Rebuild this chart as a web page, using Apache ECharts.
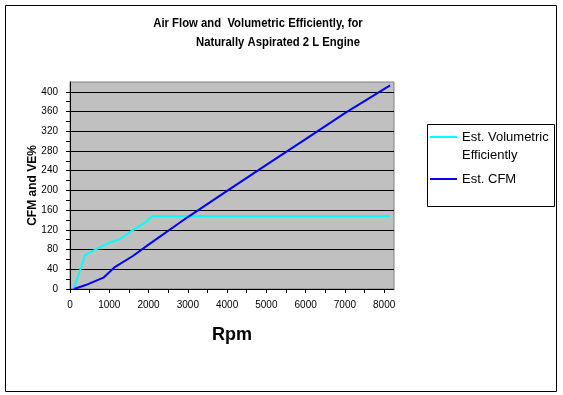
<!DOCTYPE html>
<html><head><meta charset="utf-8">
<script src="https://cdn.jsdelivr.net/npm/echarts@6/dist/echarts.min.js"></script>
<style>html,body{margin:0;padding:0;background:#fff}#c{width:563px;height:395px}</style>
</head><body><div id="c"></div>
<script>
const titleLines = ['Air Flow and  Volumetric Efficiently, for', 'Naturally Aspirated 2 L Engine'];
const seriesNames = ['Est. Volumetric Efficiently', 'Est. CFM'];
const legendLabels = ['Est. Volumetric\nEfficiently', 'Est. CFM'];
const xAxisName = 'Rpm';
const yAxisName = 'CFM and VE%';
const veRpm = [100, 380, 550, 1000, 1270, 1570, 1900, 2100, 8150];
const veValues = [0, 68, 76, 94, 101, 118, 134, 148, 148];
const cfmRpm = [100, 400, 850, 1150, 1600, 2000, 3000, 4000, 5000, 6000, 7000, 8150];
const cfmValues = [0, 8, 23, 45, 67, 90, 146, 199, 252, 304, 357, 413];
const xLabelValues = [0, 1000, 2000, 3000, 4000, 5000, 6000, 7000, 8000];
const xTickValues = [0, 500, 1000, 1500, 2000, 2500, 3000, 3500, 4000, 4500, 5000, 5500, 6000, 6500, 7000, 7500, 8000];
const yLabelValues = [0, 40, 80, 120, 160, 200, 240, 280, 320, 360, 400];
const yTickValues = [0, 20, 40, 60, 80, 100, 120, 140, 160, 180, 200, 220, 240, 260, 280, 300, 320, 340, 360, 380, 400];

const FONT = 'Arial, "Liberation Sans", sans-serif';
const zip = (xs, ys) => xs.map((x, i) => [x, ys[i]]);

const chart = echarts.init(document.getElementById('c'), null, {renderer: 'canvas'});
chart.setOption({
  animation: false,
  backgroundColor: '#fff',
  graphic: [
    {type: 'rect', shape: {x: 5.5, y: 5.5, width: 551, height: 386}, style: {fill: null, stroke: '#000', lineWidth: 1}, silent: true},
    {type: 'rect', shape: {x: 427.5, y: 124.5, width: 127, height: 82}, style: {fill: null, stroke: '#000', lineWidth: 1}, silent: true},
    {type: 'text', x: 258, y: 23, scaleX: 0.87, style: {text: titleLines[0], x: 0, y: 0, align: 'center', verticalAlign: 'middle', fontSize: 13, fontWeight: 'bold', fontFamily: FONT, fill: '#000'}},
    {type: 'text', x: 278, y: 42, scaleX: 0.87, style: {text: titleLines[1], x: 0, y: 0, align: 'center', verticalAlign: 'middle', fontSize: 13, fontWeight: 'bold', fontFamily: FONT, fill: '#000'}}
  ],
  grid: {left: 70, right: 169, top: 82, bottom: 106, show: true, backgroundColor: '#c0c0c0', borderColor: '#808080', borderWidth: 1},
  legend: {
    orient: 'vertical', left: 430, top: 110, padding: 0, itemGap: 6,
    itemWidth: 27, itemHeight: 2, icon: 'rect', selectedMode: false,
    data: seriesNames,
    formatter: function (name) { return name === seriesNames[0] ? '\n' + legendLabels[0] : legendLabels[1]; },
    textStyle: {fontSize: 13, lineHeight: 18, color: '#000', fontFamily: FONT}
  },
  xAxis: {
    type: 'value', min: 0, max: 8250, interval: 1000,
    name: xAxisName, nameLocation: 'middle', nameGap: 37, nameMoveOverlap: false,
    nameTextStyle: {fontSize: 18, fontWeight: 'bold', color: '#000', fontFamily: FONT},
    axisLine: {show: true, onZero: false, lineStyle: {color: '#000', width: 1}},
    axisTick: {show: true, customValues: xTickValues, length: 4, lineStyle: {color: '#000'}},
    axisLabel: {customValues: xLabelValues, margin: 11, color: '#000', fontSize: 10, fontFamily: FONT, formatter: function (v) { return String(v); }},
    splitLine: {show: false}
  },
  yAxis: [
    {
      type: 'value', min: 0, max: 420, interval: 40,
      name: yAxisName, nameLocation: 'middle', nameGap: 31, nameRotate: 90, nameMoveOverlap: false,
      nameTextStyle: {fontSize: 12, fontWeight: 'bold', color: '#000', fontFamily: FONT},
      axisLine: {show: true, lineStyle: {color: '#000', width: 1}},
      axisTick: {show: true, customValues: yTickValues, length: 4, lineStyle: {color: '#000'}},
      axisLabel: {customValues: yLabelValues, margin: 12, color: '#000', fontSize: 10, fontFamily: FONT},
      splitLine: {show: false},
      z: 3
    },
    {
      type: 'value', min: 0, max: 420, interval: 40, position: 'left',
      axisLine: {show: false}, axisTick: {show: false}, axisLabel: {show: false},
      splitLine: {show: true, showMinLine: false, showMaxLine: false, lineStyle: {color: '#000', width: 1}}
    }
  ],
  series: [
    {name: seriesNames[0], type: 'line', data: zip(veRpm, veValues), symbol: 'none', lineStyle: {color: '#00ffff', width: 2}, itemStyle: {color: '#00ffff'}},
    {name: seriesNames[1], type: 'line', data: zip(cfmRpm, cfmValues), symbol: 'none', lineStyle: {color: '#0000ff', width: 2}, itemStyle: {color: '#0000ff'}}
  ]
});
</script></body></html>
